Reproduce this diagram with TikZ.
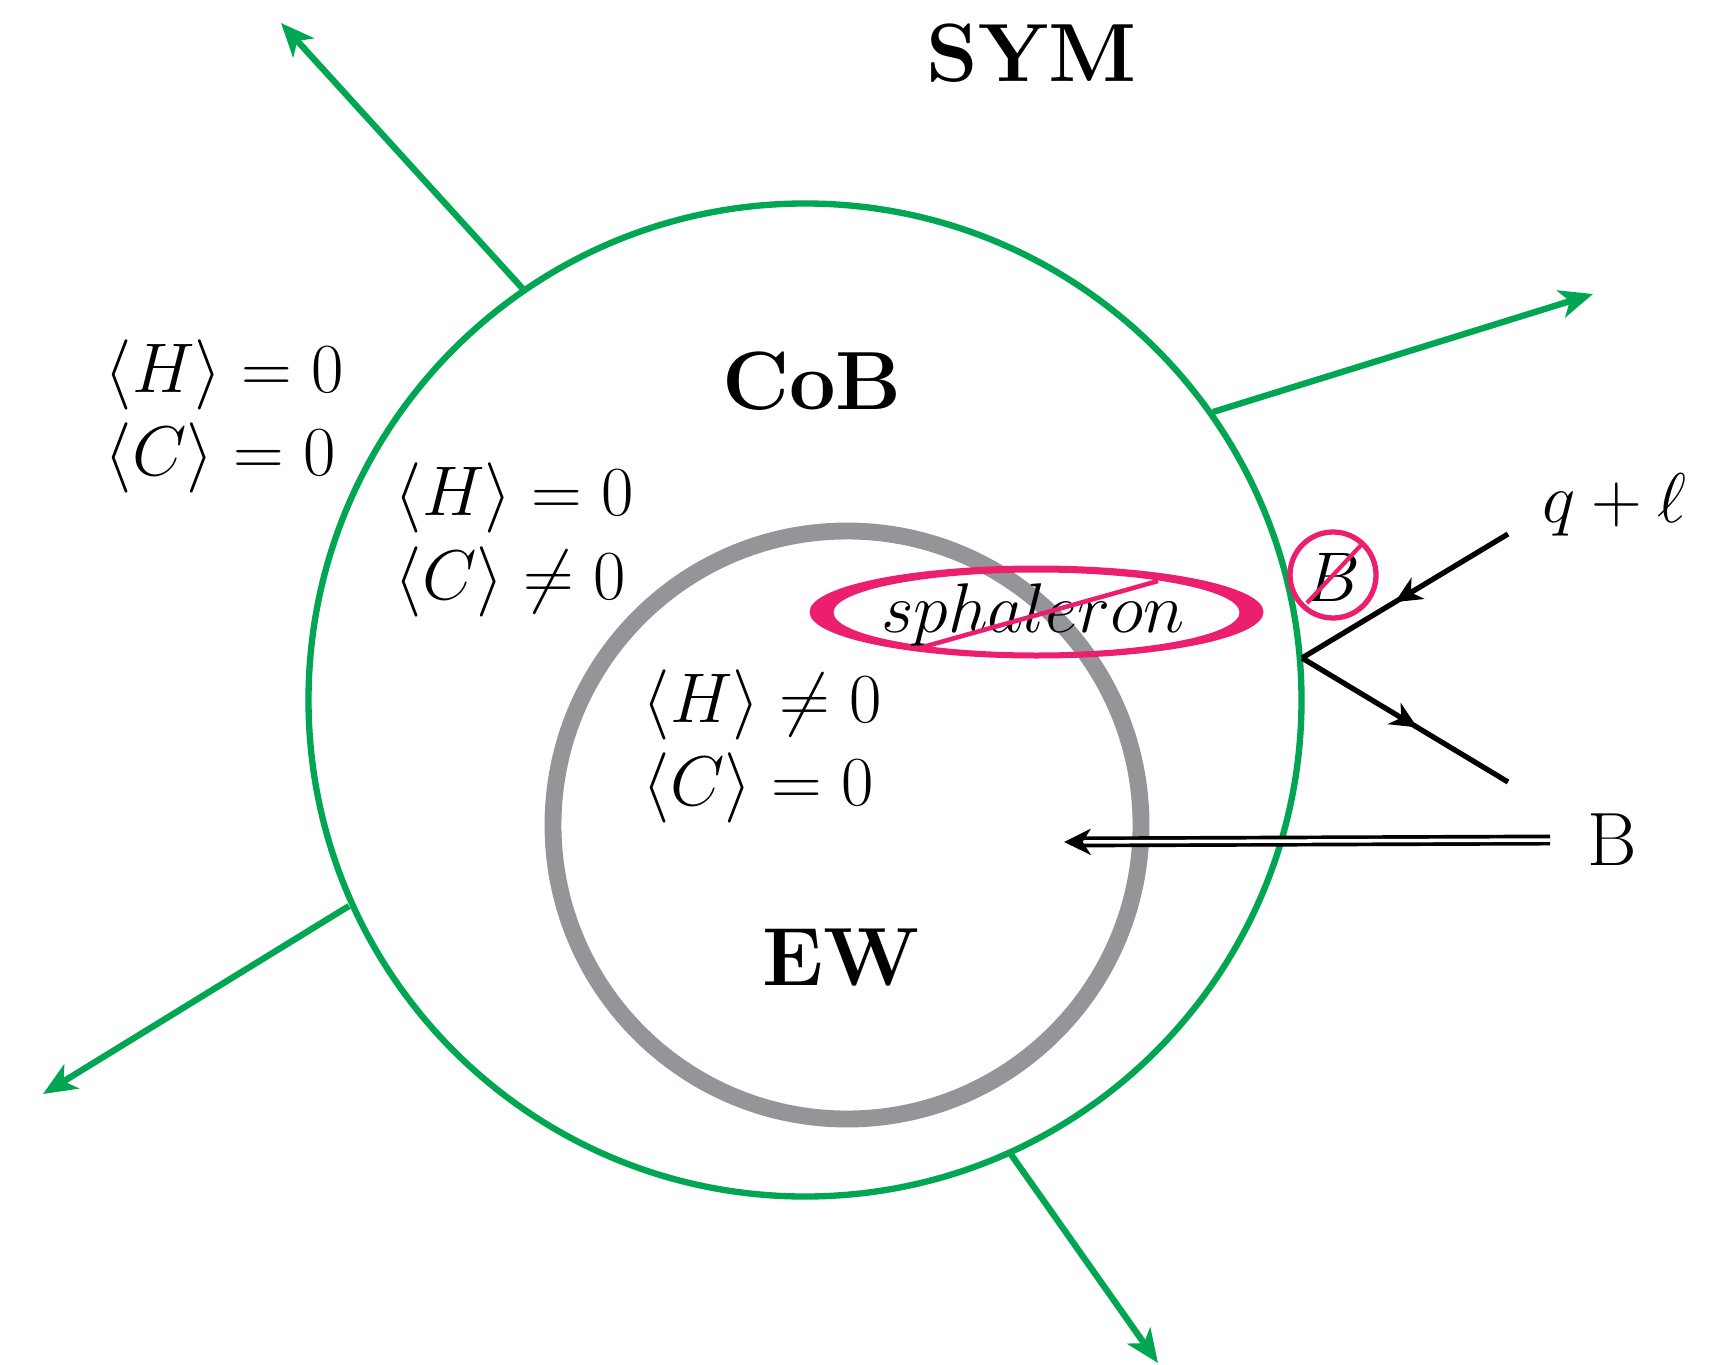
\RequirePackage{fix-cm}
\documentclass[tikz,border=0pt]{standalone}
\usetikzlibrary{arrows.meta,decorations.markings}
\definecolor{symgreen}{RGB}{0,166,81}
\definecolor{ewgray}{RGB}{147,149,152}
\definecolor{sphpink}{RGB}{236,30,110}
\begin{document}
\begin{tikzpicture}[x=0.01cm,y=-0.01cm,
  greenarrow/.style={draw=symgreen, line width=1.8pt,
    -{Stealth[length=9.5pt,width=8pt,inset=2.6pt]}},
  mathlbl/.style={anchor=west, inner sep=0pt, font=\fontsize{20}{24}\selectfont},
  titlelbl/.style={inner sep=0pt, font=\fontsize{23.5}{28}\selectfont\bfseries},
  fermion/.style={draw=black, line width=1.5pt},
  midarrow/.style={postaction={decorate}, decoration={markings,
    mark=at position #1 with {\arrow{Stealth[length=7.6pt,width=7pt,inset=2.3pt]}}}},
]
\useasboundingbox (0,0) rectangle (1722,1364);

% regions
\coordinate (Gc) at (805,700);
\coordinate (Ec) at (847,825);
\draw[symgreen, line width=1.8pt] (Gc) circle [radius=496.5];
\draw[ewgray, line width=4.8pt] (Ec) circle [radius=294];

% outgoing green arrows
\coordinate (g1s) at (523,289);   \coordinate (g1e) at (281,23);
\coordinate (g2s) at (1213,412);  \coordinate (g2e) at (1593,294);
\coordinate (g3s) at (349,906);   \coordinate (g3e) at (43,1094);
\coordinate (g4s) at (1010,1153); \coordinate (g4e) at (1158,1363);
\draw[greenarrow] (g1s) -- (g1e);
\draw[greenarrow] (g2s) -- (g2e);
\draw[greenarrow] (g3s) -- (g3e);
\draw[greenarrow] (g4s) -- (g4e);

% sphaleron
\fill[sphpink, even odd rule] (1036.5,612) ellipse [x radius=227, y radius=46.5]
      (1036.5,612.5) ellipse [x radius=203, y radius=40];
\node[anchor=base, inner sep=0pt, font=\fontsize{20}{24}\selectfont] (sph) at (1033,632) {$sphaleron$};
\coordinate (s1) at (923,647); \coordinate (s2) at (1158,581);
\draw[sphpink, line width=1.3pt] (s1) -- (s2);

% titles
\node[titlelbl] (sym) at (1032,53) {SYM};
\node[titlelbl] (cob) at (812,381) {CoB};
\node[titlelbl] (ew) at (841,958) {EW};

% labels
\node[mathlbl] (o1) at (104,375) {$\langle H\rangle = 0$};
\node[mathlbl] (o2) at (104,458) {$\langle C\rangle = 0$};
\node[mathlbl] (m1) at (394,498) {$\langle H\rangle = 0$};
\node[mathlbl] (m2) at (394,582) {$\langle C\rangle \neq 0$};
\node[mathlbl] (i1) at (642,705) {$\langle H\rangle \neq 0$};
\node[mathlbl] (i2) at (642,788) {$\langle C\rangle = 0$};

% fermion lines
\coordinate (V) at (1302,658);
\coordinate (Qend) at (1508,534);
\coordinate (Lend) at (1508,782);
\draw[fermion, midarrow=0.55] (Qend) -- (V);
\draw[fermion, midarrow=0.56] (V) -- (Lend);
\node[anchor=base west, inner sep=0pt, font=\fontsize{20}{24}\selectfont] (ql) at (1542,522) {$q+\ell$};

% B-slash
\coordinate (bc) at (1333,575);
\draw[sphpink, line width=1.5pt] (bc) circle [radius=43];
\node[inner sep=0pt, font=\fontsize{20}{24}\selectfont] (bs) at (1332,577) {$B$};
\coordinate (b1) at (1307,603); \coordinate (b2) at (1363,543);
\draw[sphpink, line width=1.2pt] (b1) -- (b2);

% B arrow
\coordinate (Bs) at (1550,840);
\coordinate (Bt) at (1064,842);
\draw[black, line width=1.05pt, double=white, double distance=1pt,
  -{Stealth[length=7.6pt,width=7.4pt,inset=2.3pt]}] (Bs) -- (Bt);
\node[inner sep=0pt, font=\fontsize{21.5}{25}\selectfont] (Blbl) at (1612,840) {B};
\end{tikzpicture}
\end{document}
